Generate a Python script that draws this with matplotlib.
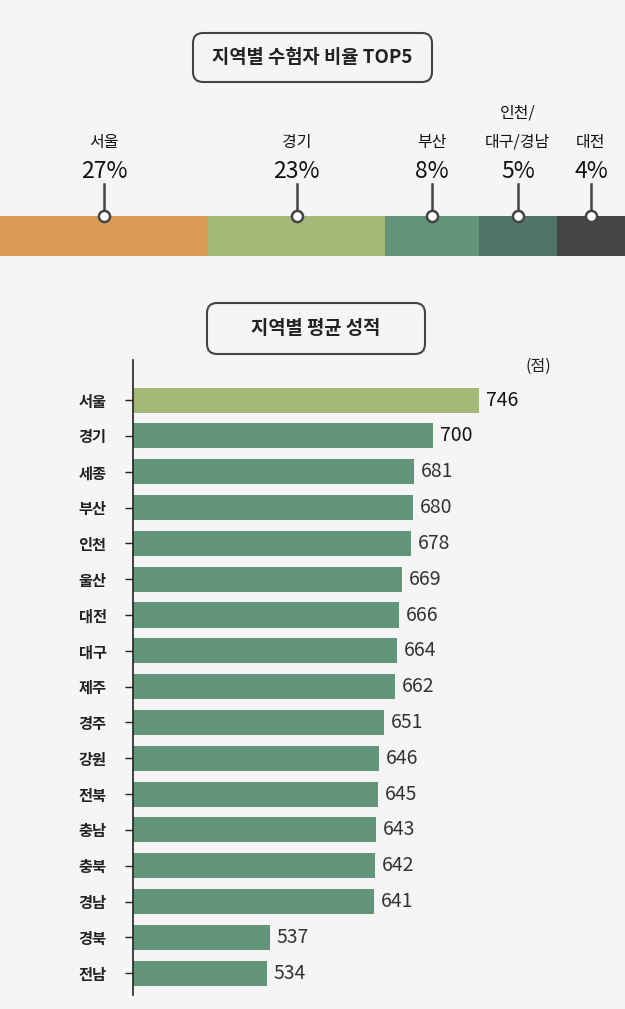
import matplotlib
matplotlib.use("Agg")
import matplotlib.pyplot as plt
from matplotlib.patches import FancyBboxPatch

plt.rcParams['font.family'] = ['Noto Sans CJK KR', 'DejaVu Sans']

# ---- data ----
share_regions = ["서울", "경기", "부산", "인천/\n대구/경남", "대전"]
share_pct = [27, 23, 8, 5, 4]
share_span = [33.3, 28.3, 15.0, 12.5, 10.9]   # visual segment widths as drawn in the source
share_colors = ["#D99A55", "#A2B978", "#62957A", "#51756B", "#454545"]

score_regions = ["서울", "경기", "세종", "부산", "인천", "울산", "대전", "대구", "제주",
                 "경주", "강원", "전북", "충남", "충북", "경남", "경북", "전남"]
score_values = [746, 700, 681, 680, 678, 669, 666, 664, 662, 651, 646, 645, 643, 642, 641, 537, 534]

BG = "#F5F5F5"
W, H = 625, 1009
fig = plt.figure(figsize=(W / 100, H / 100), dpi=100, facecolor=BG)

def frac_rect(x0, y0, x1, y1):
    return [x0 / W, 1 - y1 / H, (x1 - x0) / W, (y1 - y0) / H]

# overlay for title boxes
ov = fig.add_axes([0, 0, 1, 1])
ov.set_xlim(0, W)
ov.set_ylim(H, 0)
ov.axis("off")
ov.patch.set_alpha(0)

def title_box(x0, y0, x1, y1, text):
    box = FancyBboxPatch((x0, y0), x1 - x0, y1 - y0, boxstyle="round,pad=0,rounding_size=10",
                         facecolor=BG, edgecolor="#444444", linewidth=1.5)
    ov.add_patch(box)
    ov.text((x0 + x1) / 2, (y0 + y1) / 2, text, ha="center", va="center",
            fontsize=13.5, color="#222222", fontweight="bold")

title_box(193, 33, 432, 82, "지역별 수험자 비율 TOP5")
title_box(207, 303, 425, 354, "지역별 평균 성적")

# ---- top stacked bar ----
axt = fig.add_axes(frac_rect(0, 216, 625, 256))
axt.set_facecolor(BG)
left = 0
total = sum(share_span)
for name, pct, span, col in zip(share_regions, share_pct, share_span, share_colors):
    axt.barh(0, span, left=left, height=1.0, color=col, edgecolor="none")
    cx = left + span / 2
    axt.plot([cx, cx], [0.5, 1.3], color="#444444", lw=1.8, clip_on=False, zorder=4)
    axt.plot(cx, 0.5, marker="o", ms=8, mfc="white", mec="#444444", mew=1.8,
             clip_on=False, zorder=5)
    axt.annotate(f"{pct}%", (cx, 1.3), xytext=(0, 1), textcoords="offset points",
                 ha="center", va="bottom", fontsize=16.5, color="#111111",
                 annotation_clip=False)
    axt.annotate(name, (cx, 1.3), xytext=(0, 24), textcoords="offset points",
                 ha="center", va="bottom", fontsize=11.5, color="#111111",
                 linespacing=1.9, multialignment="center",
                 annotation_clip=False)
    left += span
axt.set_xlim(0, total)
axt.set_ylim(-0.5, 0.5)
axt.axis("off")

# ---- bottom bar chart ----
ax = fig.add_axes(frac_rect(133, 360, 600, 995))
ax.set_facecolor(BG)
ax.patch.set_alpha(0)
n = len(score_values)
ypos = list(range(n))
colors = ["#A2B978"] + ["#62957A"] * (n - 1)
ax.barh(ypos, score_values, height=0.7, color=colors, left=0)
ax.set_xlim(400, 400 + (600 - 133))
ax.set_ylim(n - 1 + 0.61, -1.12)
ax.set_xticks([])
for i, v in enumerate(score_values):
    ax.annotate(str(v), (v, i), xytext=(5, 0), textcoords="offset points",
                ha="left", va="center", fontsize=14,
                color="#111111" if i < 2 else "#333333")
ax.set_yticks(ypos)
ax.set_yticklabels(score_regions, fontsize=11, fontweight="bold", color="#222222")
ax.tick_params(axis="y", length=6, width=1, color="#222222", pad=13)
for s in ["top", "right", "bottom"]:
    ax.spines[s].set_visible(False)
ax.spines["left"].set_color("#222222")
ax.spines["left"].set_linewidth(1.2)
ov.text(538, 366, "(점)", ha="center", va="center", fontsize=11.5, color="#222222")

fig.savefig("out.png", dpi=100, facecolor=BG)
